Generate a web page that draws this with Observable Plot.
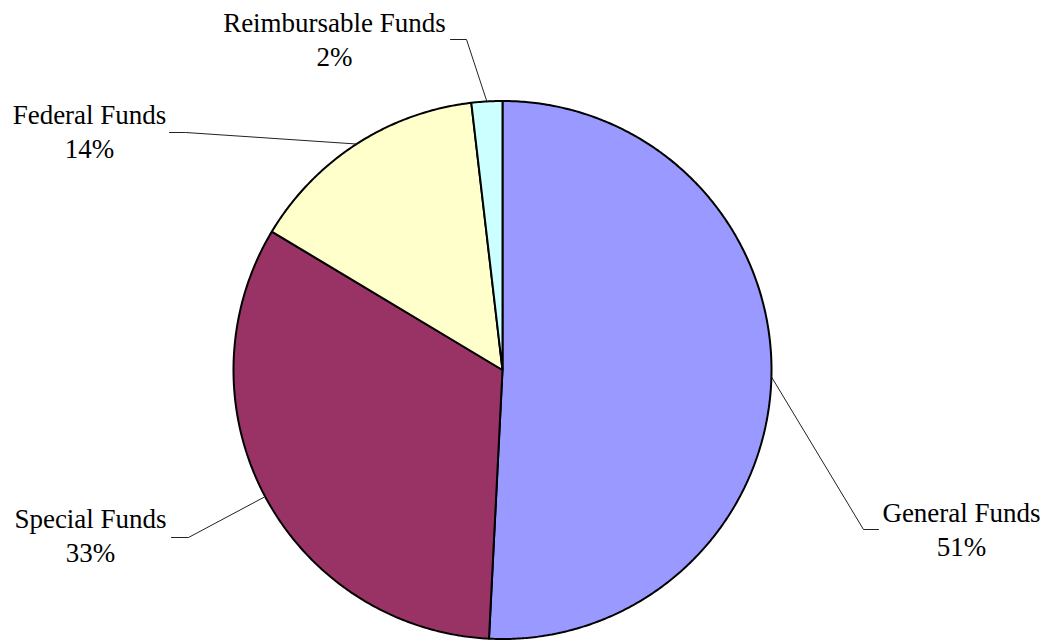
<!DOCTYPE html>
<html><head><meta charset="utf-8">
<script src="https://cdn.jsdelivr.net/npm/d3@7"></script>
<script src="https://cdn.jsdelivr.net/npm/@observablehq/plot@0.6"></script>
<style>html,body{margin:0;padding:0;background:#fff;} svg text{font-family:"Liberation Serif","Times New Roman",serif !important;}</style>
</head><body><div id="chart"></div>
<script>
// ---- data ----
const categories = ["General Funds", "Special Funds", "Federal Funds", "Reimbursable Funds"];
const shares = [50.8, 32.8, 14.55, 1.85];
const percentLabels = ["51%", "33%", "14%", "2%"];
const colors = ["#9999FF", "#993366", "#FFFFCC", "#CCFFFF"];

// ---- layout (pixels) ----
const layout = {
  cx: 502, cy: 369.5, r: 269,
  labels: [
    {tx: 961, ty: 555, elbow: [863, 529], end: [878, 529]},
    {tx: 90,  ty: 561, elbow: [188, 537], end: [171, 537]},
    {tx: 89,  ty: 157, elbow: [185, 132], end: [169, 132]},
    {tx: 334, ty: 65,  elbow: [466, 39],  end: [450, 39]}
  ]
};
const ux = px => (px - layout.cx) / layout.r;
const uy = py => (layout.cy - py) / layout.r;

// ---- build slice polygons (angles clockwise from 12 o'clock) ----
const total = d3.sum(shares);
let acc = 0;
const slices = categories.map((name, i) => {
  const a0 = acc / total * 2 * Math.PI;
  acc += shares[i];
  const a1 = acc / total * 2 * Math.PI;
  return {name, a0, a1, mid: (a0 + a1) / 2, i};
});
const polyPts = [];
for (const s of slices) {
  polyPts.push({name: s.name, x: 0, y: 0});
  const n = Math.max(2, Math.ceil((s.a1 - s.a0) / (Math.PI / 360)));
  for (let k = 0; k <= n; k++) {
    const a = s.a0 + (s.a1 - s.a0) * k / n;
    polyPts.push({name: s.name, x: Math.sin(a), y: Math.cos(a)});
  }
}
const leaders = [];
const texts = [];
slices.forEach((s, i) => {
  const L = layout.labels[i];
  leaders.push({name: s.name, x: Math.sin(s.mid), y: Math.cos(s.mid)});
  leaders.push({name: s.name, x: ux(L.elbow[0]), y: uy(L.elbow[1])});
  leaders.push({name: s.name, x: ux(L.end[0]), y: uy(L.end[1])});
  texts.push({x: ux(L.tx), y: uy(L.ty), text: s.name + "\n" + percentLabels[i]});
});

const chart = Plot.plot({
  width: 1050, height: 642,
  margin: 0,
  style: {background: "#fff"},
  x: {axis: null, domain: [-1, 1], range: [layout.cx - layout.r, layout.cx + layout.r]},
  y: {axis: null, domain: [-1, 1], range: [layout.cy + layout.r, layout.cy - layout.r]},
  color: {domain: categories, range: colors},
  marks: [
    Plot.line(polyPts, {x: "x", y: "y", z: "name", fill: "name", stroke: "black", strokeWidth: 2, curve: "linear-closed", strokeLinejoin: "miter"}),
    Plot.line(leaders, {x: "x", y: "y", z: "name", stroke: "#222", strokeWidth: 1, curve: "linear"}),
    Plot.text(texts, {x: "x", y: "y", text: "text", fontSize: 27, fontFamily: "Liberation Serif", lineHeight: 1.23, lineAnchor: "bottom", textAnchor: "middle", fill: "black"})
  ]
});
document.getElementById("chart").appendChild(chart);
</script>
</body></html>
